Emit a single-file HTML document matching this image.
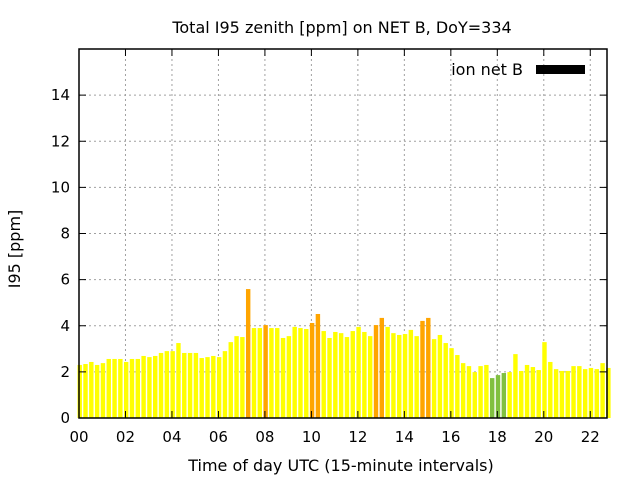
<!DOCTYPE html>
<html><head><meta charset="utf-8"><style>
body{margin:0;background:#fff;}
svg{display:block;font-family:"DejaVu Sans","Liberation Sans",sans-serif;}
</style></head><body>
<svg id="chart" width="640" height="480">
<text x="342" y="33" text-anchor="middle" font-size="16">Total I95 zenith [ppm] on NET B, DoY=334</text>
<text x="341" y="471" text-anchor="middle" font-size="16">Time of day UTC (15-minute intervals)</text>
<text transform="translate(20,249) rotate(-90)" text-anchor="middle" font-size="16">I95 [ppm]</text>
<g id="grid"></g><g id="bars"></g><g id="axes"></g>
<text x="523" y="75" text-anchor="end" font-size="16">ion net B</text>
<rect x="536" y="65" width="49" height="9" fill="#000"/>
</svg>
<script>
const values=[2.30,2.34,2.43,2.30,2.38,2.56,2.56,2.56,2.43,2.56,2.56,2.69,2.64,2.69,2.82,2.90,2.90,3.25,2.82,2.82,2.82,2.60,2.64,2.69,2.64,2.90,3.29,3.55,3.51,5.59,3.90,3.90,4.03,3.90,3.90,3.47,3.55,3.95,3.90,3.86,4.12,4.51,3.77,3.47,3.73,3.68,3.51,3.77,3.95,3.73,3.55,4.03,4.34,3.95,3.68,3.60,3.64,3.82,3.55,4.21,4.34,3.42,3.60,3.25,3.03,2.73,2.38,2.25,1.99,2.25,2.30,1.73,1.86,1.95,1.99,2.77,2.04,2.30,2.21,2.08,3.29,2.43,2.12,2.04,2.04,2.25,2.25,2.12,2.17,2.12,2.38,2.17];
const yTicks=[0,2,4,6,8,10,12,14];
const xTicks=[0,2,4,6,8,10,12,14,16,18,20,22];
const xTickLabels=["00","02","04","06","08","10","12","14","16","18","20","22"];
const X0=79,X1=607,Y0=418,Y1=49,XMAX=22.72,YMAX=16;
const sx=h=>X0+(X1-X0)*h/XMAX, sy=v=>Y0-(Y0-Y1)*v/YMAX;
const NS="http://www.w3.org/2000/svg";
function mk(t,a,p){const e=document.createElementNS(NS,t);for(const k in a)e.setAttribute(k,a[k]);p.appendChild(e);return e;}
const grid=document.getElementById('grid'),bars=document.getElementById('bars'),axes=document.getElementById('axes');
yTicks.forEach(v=>{
 if(v>0){const g=mk('line',{x1:X0,x2:X1,y1:sy(v),y2:sy(v),stroke:'#a0a0a0','stroke-dasharray':'2,3'},grid);
 
 }
 mk('line',{x1:X0,x2:X0+7,y1:sy(v),y2:sy(v),stroke:'#000'},axes);
 mk('line',{x1:X1-7,x2:X1,y1:sy(v),y2:sy(v),stroke:'#000'},axes);
 const t=mk('text',{x:X0-9,y:sy(v)+5,'text-anchor':'end','font-size':15},axes);t.textContent=v;
 
 
});
xTicks.forEach((h,i)=>{
 if(h>0){const g=mk('line',{x1:sx(h),x2:sx(h),y1:Y1,y2:Y0,stroke:'#a0a0a0','stroke-dasharray':'2,3'},grid);
 
 }
 mk('line',{x1:sx(h),x2:sx(h),y1:Y0,y2:Y0-7,stroke:'#000'},axes);
 mk('line',{x1:sx(h),x2:sx(h),y1:Y1,y2:Y1+7,stroke:'#000'},axes);
 const t=mk('text',{x:sx(h),y:Y0+24,'text-anchor':'middle','font-size':15},axes);t.textContent=xTickLabels[i];
 
 
});
values.forEach((v,k)=>{
 const c=k*0.25+0.03, w=0.19;
 const col=v>4?'#ffa500':(v<1.97?'#80c040':'#ffff00');
 const r=mk('rect',{x:sx(c-w/2),y:sy(v),width:sx(w)-X0,height:Y0-sy(v),fill:col},bars);
 
 
});
const f=mk('rect',{x:X0,y:Y1,width:X1-X0,height:Y0-Y1,fill:'none',stroke:'#000','stroke-width':1.5},axes);


</script>
</body></html>
